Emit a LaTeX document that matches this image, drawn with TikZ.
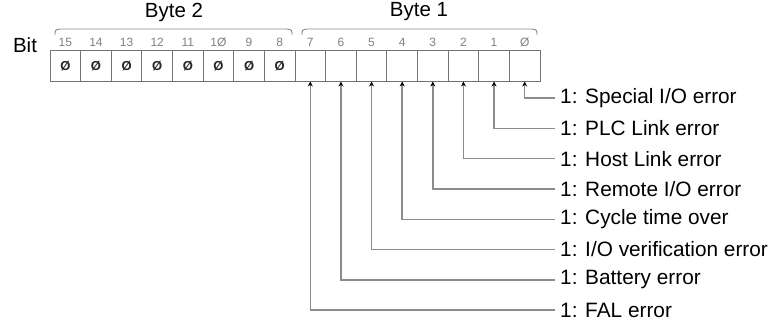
\documentclass[tikz,border=0pt]{standalone}
\usepackage{fontspec}
\setmainfont{Liberation Sans}
\usepackage{tikz}
\usetikzlibrary{calc}
\usetikzlibrary{arrows.meta}
\usetikzlibrary{positioning}
\definecolor{wiregray}{gray}{0.55}
\definecolor{cellgray}{gray}{0.45}
\tikzset{
  bitcell/.style={draw=cellgray, line width=1pt, minimum width=30.625pt, minimum height=31pt, inner sep=0, outer sep=0,
    text=black!85, font=\fontsize{13}{13}\selectfont\bfseries},
  bitnum/.style={text=black!50, font=\fontsize{12}{12}\selectfont, inner sep=0},
  bitlabel/.style={anchor=west, inner sep=5pt, font=\fontsize{20.8}{21}\selectfont},
  bigtext/.style={inner sep=0, font=\fontsize{20.5}{21}\selectfont},
  wire/.style={draw=wiregray, line width=1.4pt, {Stealth[black,length=5pt,width=5pt]}-},
  bytebrace/.style={draw=wiregray, line width=0.9pt}
}

\begin{document}
\begin{tikzpicture}[x=1pt, y=-1pt]
\useasboundingbox (0,0) rectangle (774,324);
\node[bigtext] (bit) at (25,45) {Bit};
\foreach \b in {0,...,15} {
 \node[bitcell] (c\b) at ({50+30.625*(15.5-\b)},66) {\ifnum\b>7 Ø\fi};
 \node[bitnum] (n\b) at ({50+30.625*(15.5-\b)},42) {\ifnum\b=0 Ø\else\ifnum\b=10 1Ø\else\b\fi\fi};
}
% byte brackets
\draw[bytebrace] (55,35) .. controls (55,30) .. (60,29) -- (287,29) .. controls (292,30) .. (292,35);
\draw[bytebrace] (302,35) .. controls (302,30) .. (307,29) -- (532,29) .. controls (537,30) .. (537,35);
\node[bigtext] (byte2) at (174,12) {Byte 2};
\node[bigtext] (byte1) at (419,12) {Byte 1};
% flag labels
\foreach \b/\txt in {0/{1: Special I/O error}, 1/{1: PLC Link error}, 2/{1: Host Link error},
  3/{1: Remote I/O error}, 4/{1: Cycle time over}, 5/{1: I/O verification error},
  6/{1: Battery error}, 7/{1: FAL error}} {
 \node[bitlabel] (l\b) at (555,{98+30.3*\b}) {\txt};
 \draw[wire] (c\b.south) |- (l\b.west);
}
\end{tikzpicture}
\end{document}
